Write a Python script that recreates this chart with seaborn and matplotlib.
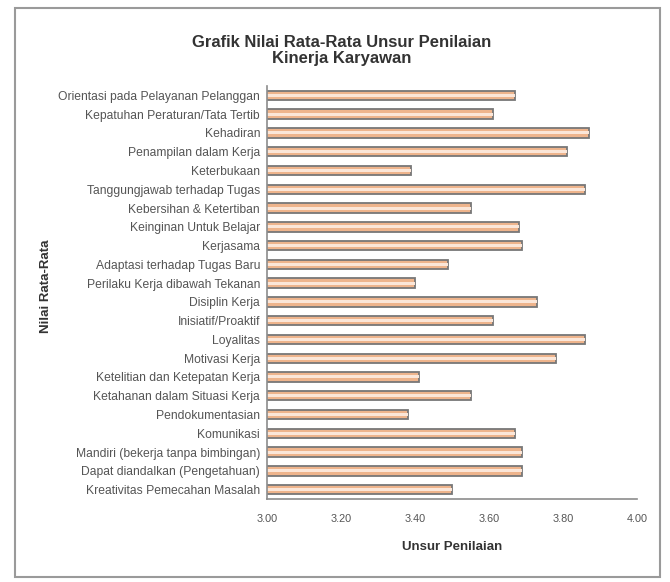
import numpy as np
import pandas as pd
import matplotlib
matplotlib.use("Agg")
import matplotlib.pyplot as plt
import seaborn as sns
from matplotlib.patches import Rectangle

kategori = [
    "Orientasi pada Pelayanan Pelanggan",
    "Kepatuhan Peraturan/Tata Tertib",
    "Kehadiran",
    "Penampilan dalam Kerja",
    "Keterbukaan",
    "Tanggungjawab terhadap Tugas",
    "Kebersihan & Ketertiban",
    "Keinginan Untuk Belajar",
    "Kerjasama",
    "Adaptasi terhadap Tugas Baru",
    "Perilaku Kerja dibawah Tekanan",
    "Disiplin Kerja",
    "Inisiatif/Proaktif",
    "Loyalitas",
    "Motivasi Kerja",
    "Ketelitian dan Ketepatan Kerja",
    "Ketahanan dalam Situasi Kerja",
    "Pendokumentasian",
    "Komunikasi",
    "Mandiri (bekerja tanpa bimbingan)",
    "Dapat diandalkan (Pengetahuan)",
    "Kreativitas Pemecahan Masalah",
]
nilai = [3.67, 3.61, 3.87, 3.81, 3.39, 3.86, 3.55, 3.68, 3.69, 3.49, 3.40,
         3.73, 3.61, 3.86, 3.78, 3.41, 3.55, 3.38, 3.67, 3.69, 3.69, 3.50]
x_ticks = [3.00, 3.20, 3.40, 3.60, 3.80, 4.00]

df = pd.DataFrame({"kategori": kategori, "nilai": nilai})

sns.set_style("white")
plt.rcParams["font.family"] = ["Liberation Sans", "DejaVu Sans"]

fig = plt.figure(figsize=(6.7, 5.82), dpi=100)
ax = fig.add_axes([0.3985, 0.1426, 0.5525, 0.7096])

# outer bar: peach with grey outline, inner lighter stripe as highlight
sns.barplot(data=df, x="nilai", y="kategori", orient="h", ax=ax,
            color="#eeb48c", edgecolor="#777777", linewidth=1.3,
            width=0.5, saturation=1)
sns.barplot(data=df, x="nilai", y="kategori", orient="h", ax=ax,
            color="#fbe6d8", linewidth=0, width=0.16, saturation=1)

ax.set_xlim(3.0, 4.0)
ax.set_ylim(len(kategori) - 0.5, -0.5)
ax.set_xticks(x_ticks)
ax.set_xticklabels([f"{t:.2f}" for t in x_ticks], fontsize=7.8, color="#555555")
ax.tick_params(axis="x", pad=8, length=3, color="#888888", direction="out")
ax.tick_params(axis="y", labelsize=8.7, labelcolor="#555555", length=0, pad=5)
# minor ticks between categories on the y axis, Excel style
ax.set_yticks(np.arange(-0.5, len(kategori), 1.0), minor=True)
ax.tick_params(axis="y", which="minor", length=3, color="#6a8fb5", direction="out")

for s in ["top", "right"]:
    ax.spines[s].set_visible(False)
for s in ["left", "bottom"]:
    ax.spines[s].set_color("#8c8c8c")
    ax.spines[s].set_linewidth(1.2)

ax.set_xlabel("Unsur Penilaian", fontsize=9.5, fontweight="bold",
              color="#333333", labelpad=12)
ax.set_ylabel("")
fig.text(0.068, 0.509, "Nilai Rata-Rata", rotation=90, fontsize=9.5,
         fontweight="bold", color="#333333", ha="center", va="center")

fig.text(0.51, 0.927, "Grafik Nilai Rata-Rata Unsur Penilaian",
         ha="center", va="center", fontsize=12, fontweight="bold", color="#333333")
fig.text(0.51, 0.899, "Kinerja Karyawan",
         ha="center", va="center", fontsize=12, fontweight="bold", color="#333333")

# chart border
fig.patches.append(Rectangle((0.022, 0.008), 0.963, 0.978, transform=fig.transFigure,
                             fill=False, edgecolor="#9a9a9a", linewidth=1.5))

fig.savefig("out.png", dpi=100)
